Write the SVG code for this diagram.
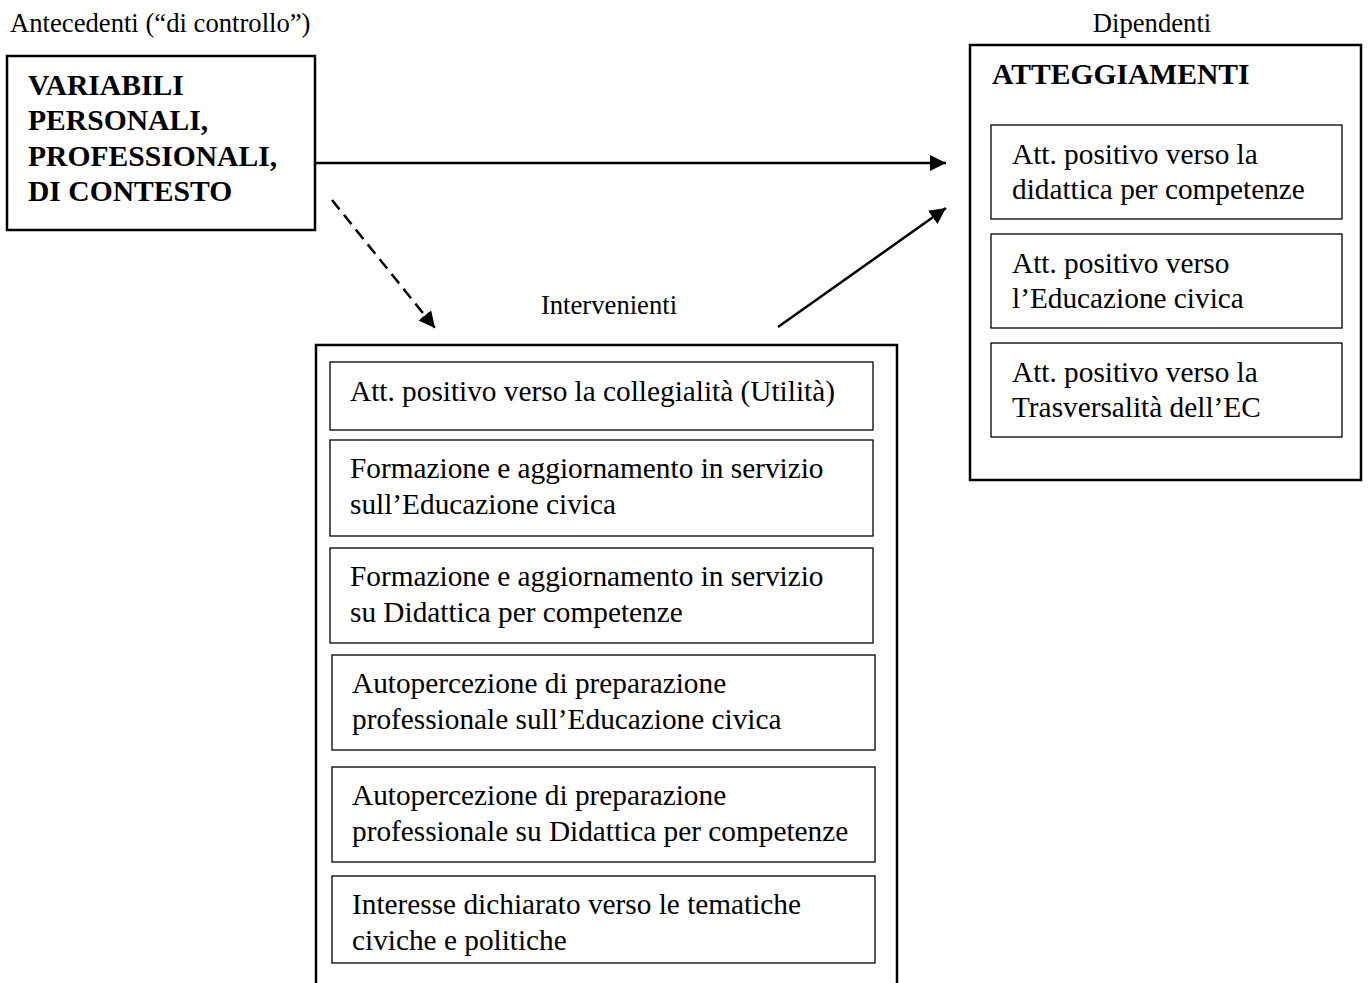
<svg xmlns="http://www.w3.org/2000/svg" width="1369" height="983" viewBox="0 0 1369 983">
  <style>
    .lbl { font-family: "Liberation Serif", "Times New Roman", serif; font-size: 26.67px; fill: #000; }
    .txt { font-family: "Liberation Serif", "Times New Roman", serif; font-size: 29.3px; fill: #000; }
    .bold { font-family: "Liberation Serif", "Times New Roman", serif; font-size: 29.6px; font-weight: bold; fill: #000; }
    .outer { fill: #fff; stroke: #000; stroke-width: 2.5; }
    .inner { fill: #fff; stroke: #000; stroke-width: 1.3; }
    .conn { fill: none; stroke: #000; stroke-width: 2.5; }
    .dash { stroke-dasharray: 12 7; }
  </style>
  <defs>
    <marker id="head" viewBox="0 0 10 10" refX="10" refY="5" markerWidth="6.5" markerHeight="6.5" markerUnits="strokeWidth" orient="auto">
      <path d="M0,0 L10,5 L0,10 Z" fill="#000"/>
    </marker>
  </defs>
  <rect width="1369" height="983" fill="#fff"/>

  <!-- group labels -->
  <text class="lbl" x="10" y="32">Antecedenti (“di controllo”)</text>
  <text class="lbl" x="1152" y="32" text-anchor="middle">Dipendenti</text>
  <text class="lbl" x="609" y="314" text-anchor="middle">Intervenienti</text>

  <!-- antecedents -->
  <g id="antecedenti">
    <rect class="outer" x="7" y="56" width="308" height="174"/>
    <text class="bold" x="28" y="95">VARIABILI</text>
    <text class="bold" x="28" y="130">PERSONALI,</text>
    <text class="bold" x="28" y="166">PROFESSIONALI,</text>
    <text class="bold" x="28" y="201">DI CONTESTO</text>
  </g>

  <!-- dependents -->
  <g id="dipendenti">
    <rect class="outer" x="970" y="45" width="391" height="435"/>
    <text class="bold" x="992" y="84">ATTEGGIAMENTI</text>
    <g id="dip-1">
      <rect class="inner" x="991" y="125" width="351" height="94"/>
      <text class="txt" x="1012" y="164">Att. positivo verso la</text>
      <text class="txt" x="1012" y="199">didattica per competenze</text>
    </g>
    <g id="dip-2">
      <rect class="inner" x="991" y="234" width="351" height="94"/>
      <text class="txt" x="1012" y="273">Att. positivo verso</text>
      <text class="txt" x="1012" y="308">l’Educazione civica</text>
    </g>
    <g id="dip-3">
      <rect class="inner" x="991" y="343" width="351" height="94"/>
      <text class="txt" x="1012" y="382">Att. positivo verso la</text>
      <text class="txt" x="1012" y="417">Trasversalità dell’EC</text>
    </g>
  </g>

  <!-- intervening -->
  <g id="intervenienti">
    <rect class="outer" x="316" y="345" width="581" height="700"/>
    <g id="int-1">
      <rect class="inner" x="330" y="362" width="543" height="68"/>
      <text class="txt" x="350" y="401">Att. positivo verso la collegialità (Utilità)</text>
    </g>
    <g id="int-2">
      <rect class="inner" x="330" y="440" width="543" height="96"/>
      <text class="txt" x="350" y="478">Formazione e aggiornamento in servizio</text>
      <text class="txt" x="350" y="514">sull’Educazione civica</text>
    </g>
    <g id="int-3">
      <rect class="inner" x="330" y="548" width="543" height="95"/>
      <text class="txt" x="350" y="586">Formazione e aggiornamento in servizio</text>
      <text class="txt" x="350" y="622">su Didattica per competenze</text>
    </g>
    <g id="int-4">
      <rect class="inner" x="332" y="655" width="543" height="95"/>
      <text class="txt" x="352" y="693">Autopercezione di preparazione</text>
      <text class="txt" x="352" y="729">professionale sull’Educazione civica</text>
    </g>
    <g id="int-5">
      <rect class="inner" x="332" y="767" width="543" height="95"/>
      <text class="txt" x="352" y="805">Autopercezione di preparazione</text>
      <text class="txt" x="352" y="841">professionale su Didattica per competenze</text>
    </g>
    <g id="int-6">
      <rect class="inner" x="332" y="876" width="543" height="87"/>
      <text class="txt" x="352" y="914">Interesse dichiarato verso le tematiche</text>
      <text class="txt" x="352" y="950">civiche e politiche</text>
    </g>
  </g>

  <!-- connectors -->
  <g id="connectors">
    <line class="conn" x1="316" y1="163" x2="946" y2="163" marker-end="url(#head)"/>
    <line class="conn dash" x1="332" y1="200" x2="435" y2="328" marker-end="url(#head)"/>
    <line class="conn" x1="778" y1="327" x2="946" y2="208" marker-end="url(#head)"/>
  </g>
</svg>
